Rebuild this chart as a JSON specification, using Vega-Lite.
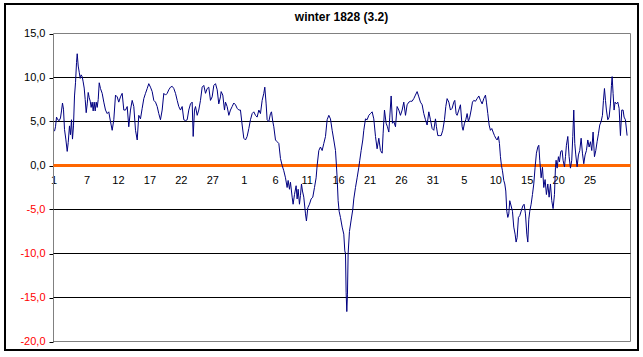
{
 "$schema": "https://vega.github.io/schema/vega-lite/v6.json",
 "width": 633,
 "height": 346,
 "autosize": {"type": "none"},
 "padding": {"left": 5, "top": 4, "right": 5, "bottom": 7},
 "background": "white",
 "title": {"text": "winter 1828 (3.2)", "font": "Liberation Sans", "fontSize": 12, "fontWeight": "bold", "color": "black", "anchor": "middle", "frame": "group", "offset": -17, "baseline": "alphabetic", "dx": 20, "dy": 12},
 "config": {"view": {"stroke": "black", "strokeWidth": 2}, "font": "Liberation Sans"},
 "layer": [
  {
   "data": {"values": [{}]},
   "mark": {"type": "rect", "fill": "white", "fillOpacity": 0, "stroke": "#808080", "strokeWidth": 1},
   "encoding": {
    "x": {"datum": 0.75, "type": "quantitative", "scale": {"type": "linear", "domain": [0.75, 92.5], "range": [48.5, 625.5], "nice": false, "zero": false},
     "axis": {"orient": "bottom", "offset": -186, "values": [0.75, 6, 11, 16, 21, 26, 31, 36, 41, 46, 51, 56, 61, 66, 71, 76, 81, 86], "domain": false, "ticks": false, "tickSize": 0, "grid": false, "labelFont": "Liberation Sans", "labelFontSize": 11, "labelColor": "black", "labelPadding": 10, "labelOverlap": false, "labelFlush": false, "labelBound": false, "labelExpr": "datum.value < 1 ? '1' : datum.value < 31 ? '' + (datum.value + 1) : datum.value < 62 ? '' + (datum.value - 30) : '' + (datum.value - 61)", "title": null}},
    "x2": {"datum": 92.5},
    "y": {"datum": 15, "type": "quantitative", "scale": {"type": "linear", "domain": [-20, 15], "range": [337.5, 29.5], "nice": false, "zero": false},
     "axis": {"orient": "left", "offset": -48, "values": [-20, -15, -10, -5, 0, 5, 10, 15], "grid": false, "domainColor": "black", "domainWidth": 1, "tickColor": "black", "tickSize": 4, "labelFont": "Liberation Sans", "labelFontSize": 11, "labelPadding": 4, "labelColor": {"condition": {"test": "datum.value < 0", "value": "#FF0000"}, "value": "black"}, "labelExpr": "(datum.value < 0 ? '-' : '') + replace(format(abs(datum.value), '.1f'), '.', ',')", "title": null}},
    "y2": {"datum": -20}
   }
  },
  {
   "data": {"values": [{"g": -15}, {"g": -10}, {"g": -5}, {"g": 5}, {"g": 10}]},
   "mark": {"type": "rule", "color": "black", "strokeWidth": 1},
   "encoding": {
    "y": {"field": "g", "type": "quantitative", "scale": {"type": "linear", "domain": [-20, 15], "range": [337.5, 29.5], "nice": false, "zero": false},
     "axis": {"orient": "left", "offset": -48, "values": [-20, -15, -10, -5, 0, 5, 10, 15], "grid": false, "domainColor": "black", "domainWidth": 1, "tickColor": "black", "tickSize": 4, "labelFont": "Liberation Sans", "labelFontSize": 11, "labelPadding": 4, "labelColor": {"condition": {"test": "datum.value < 0", "value": "#FF0000"}, "value": "black"}, "labelExpr": "(datum.value < 0 ? '-' : '') + replace(format(abs(datum.value), '.1f'), '.', ',')", "title": null}},
    "x": {"datum": 0.75, "type": "quantitative", "scale": {"type": "linear", "domain": [0.75, 92.5], "range": [48.5, 625.5], "nice": false, "zero": false},
     "axis": {"orient": "bottom", "offset": -186, "values": [0.75, 6, 11, 16, 21, 26, 31, 36, 41, 46, 51, 56, 61, 66, 71, 76, 81, 86], "domain": false, "ticks": false, "tickSize": 0, "grid": false, "labelFont": "Liberation Sans", "labelFontSize": 11, "labelColor": "black", "labelPadding": 10, "labelOverlap": false, "labelFlush": false, "labelBound": false, "labelExpr": "datum.value < 1 ? '1' : datum.value < 31 ? '' + (datum.value + 1) : datum.value < 62 ? '' + (datum.value - 30) : '' + (datum.value - 61)", "title": null}},
    "x2": {"datum": 92.5}
   }
  },
  {
   "data": {"values": [{}]},
   "mark": {"type": "rule", "color": "#FF6600", "strokeWidth": 3},
   "encoding": {
    "y": {"datum": 0, "type": "quantitative", "scale": {"type": "linear", "domain": [-20, 15], "range": [337.5, 29.5], "nice": false, "zero": false},
     "axis": {"orient": "left", "offset": -48, "values": [-20, -15, -10, -5, 0, 5, 10, 15], "grid": false, "domainColor": "black", "domainWidth": 1, "tickColor": "black", "tickSize": 4, "labelFont": "Liberation Sans", "labelFontSize": 11, "labelPadding": 4, "labelColor": {"condition": {"test": "datum.value < 0", "value": "#FF0000"}, "value": "black"}, "labelExpr": "(datum.value < 0 ? '-' : '') + replace(format(abs(datum.value), '.1f'), '.', ',')", "title": null}},
    "x": {"datum": 0.75, "type": "quantitative", "scale": {"type": "linear", "domain": [0.75, 92.5], "range": [48.5, 625.5], "nice": false, "zero": false},
     "axis": {"orient": "bottom", "offset": -186, "values": [0.75, 6, 11, 16, 21, 26, 31, 36, 41, 46, 51, 56, 61, 66, 71, 76, 81, 86], "domain": false, "ticks": false, "tickSize": 0, "grid": false, "labelFont": "Liberation Sans", "labelFontSize": 11, "labelColor": "black", "labelPadding": 10, "labelOverlap": false, "labelFlush": false, "labelBound": false, "labelExpr": "datum.value < 1 ? '1' : datum.value < 31 ? '' + (datum.value + 1) : datum.value < 62 ? '' + (datum.value - 30) : '' + (datum.value - 61)", "title": null}},
    "x2": {"datum": 92.5}
   }
  },
  {
   "data": {"values": [
    {"d":0.91,"v":3.9},{"d":1.07,"v":4.4},{"d":1.23,"v":5.5},{"d":1.43,"v":5.2},{"d":1.66,"v":5.1},{"d":1.86,"v":5.4},{"d":2.02,"v":6.2},{"d":2.18,"v":7.1},{"d":2.34,"v":6.4},{"d":2.50,"v":4.1},{"d":2.71,"v":3.0},{"d":2.93,"v":1.6},{"d":3.09,"v":2.6},{"d":3.29,"v":4.5},{"d":3.45,"v":3.5},{"d":3.61,"v":5.2},{"d":3.77,"v":3.0},{"d":3.93,"v":4.5},{"d":4.09,"v":7.9},{"d":4.25,"v":9.4},{"d":4.41,"v":11.7},{"d":4.52,"v":12.7},{"d":4.68,"v":11.3},{"d":4.84,"v":10.6},{"d":5.00,"v":9.9},{"d":5.15,"v":10.3},{"d":5.31,"v":10.1},{"d":5.47,"v":9.5},{"d":5.63,"v":8.8},{"d":5.79,"v":7.5},{"d":5.95,"v":6.0},{"d":6.11,"v":7.0},{"d":6.27,"v":8.3},{"d":6.43,"v":7.7},{"d":6.59,"v":7.3},{"d":6.74,"v":6.6},{"d":6.90,"v":7.2},{"d":7.06,"v":6.2},{"d":7.22,"v":7.2},{"d":7.38,"v":6.2},{"d":7.54,"v":7.2},{"d":7.70,"v":6.6},{"d":7.86,"v":7.5},{"d":8.02,"v":9.4},
    {"d":8.22,"v":8.75},{"d":8.49,"v":8.2},{"d":8.75,"v":7.2},{"d":9.02,"v":6.3},{"d":9.29,"v":5.9},{"d":9.54,"v":6.1},{"d":9.81,"v":5.0},{"d":10.08,"v":4.0},{"d":10.34,"v":5.2},{"d":10.61,"v":8.0},{"d":10.88,"v":7.8},{"d":11.13,"v":7.2},{"d":11.40,"v":7.8},{"d":11.67,"v":8.2},{"d":11.93,"v":6.3},{"d":12.20,"v":6.3},{"d":12.47,"v":6.7},{"d":12.72,"v":4.4},{"d":12.99,"v":6.3},{"d":13.26,"v":7.4},{"d":13.52,"v":6.7},{"d":13.79,"v":4.0},{"d":14.06,"v":2.9},{"d":14.31,"v":5.7},{"d":14.58,"v":5.3},{"d":14.85,"v":6.5},{"d":15.11,"v":7.6},{"d":15.38,"v":8.2},{"d":15.65,"v":8.75},{"d":15.90,"v":9.3},{"d":16.17,"v":8.9},{"d":16.44,"v":8.4},{"d":16.70,"v":7.4},{"d":16.97,"v":7.2},{"d":17.24,"v":6.7},{"d":17.49,"v":5.9},{"d":17.76,"v":5.2},{"d":18.03,"v":6.3},{"d":18.29,"v":8.2},{"d":18.56,"v":8.0},{"d":18.83,"v":8.2},{"d":19.08,"v":8.6},{"d":19.35,"v":8.9},{"d":19.62,"v":9.0},{"d":19.88,"v":8.75},{"d":20.15,"v":8.2},{"d":20.42,"v":7.4},{"d":20.67,"v":6.7},{"d":20.94,"v":6.3},{"d":21.21,"v":6.7},{"d":21.47,"v":5.2},{"d":21.74,"v":5.1},{"d":22.01,"v":5.2},{"d":22.26,"v":6.3},{"d":22.53,"v":7.0},{"d":22.80,"v":7.2},{"d":22.96,"v":3.3},{"d":23.17,"v":6.3},{"d":23.33,"v":6.7},{"d":23.60,"v":5.7},{"d":23.85,"v":6.3},{"d":24.12,"v":7.4},{"d":24.39,"v":8.9},{"d":24.65,"v":9.1},{"d":24.92,"v":8.2},{"d":25.19,"v":8.75},{"d":25.44,"v":8.9},{"d":25.71,"v":7.4},{"d":25.98,"v":7.8},{"d":26.24,"v":9.1},{"d":26.51,"v":9.3},{"d":26.78,"v":8.6},{"d":27.03,"v":7.0},{"d":27.30,"v":7.8},
    {"d":27.41,"v":8.4},{"d":27.67,"v":8.0},{"d":27.94,"v":6.3},{"d":28.10,"v":7.2},{"d":28.36,"v":6.7},{"d":28.63,"v":5.7},{"d":28.89,"v":6.3},{"d":29.16,"v":6.7},{"d":29.42,"v":7.1},{"d":29.69,"v":6.9},{"d":29.95,"v":6.5},{"d":30.22,"v":6.3},{"d":30.48,"v":6.3},{"d":30.75,"v":4.6},{"d":31.01,"v":3.1},{"d":31.28,"v":2.9},{"d":31.54,"v":3.3},{"d":31.81,"v":4.2},{"d":32.07,"v":5.2},{"d":32.34,"v":5.9},{"d":32.60,"v":6.1},{"d":32.87,"v":5.7},{"d":33.13,"v":5.5},{"d":33.40,"v":6.3},{"d":33.66,"v":5.9},{"d":33.93,"v":7.4},{"d":34.19,"v":8.2},{"d":34.35,"v":8.9},{"d":34.56,"v":7.0},{"d":34.72,"v":5.2},{"d":34.99,"v":5.0},{"d":35.25,"v":5.9},{"d":35.41,"v":6.1},{"d":35.62,"v":5.0},{"d":35.78,"v":4.4},{"d":36.05,"v":2.9},{"d":36.31,"v":2.7},{"d":36.58,"v":2.5},{"d":36.84,"v":0.8},{"d":37.11,"v":0.0},{"d":37.37,"v":-0.6},{"d":37.64,"v":-1.4},{"d":37.90,"v":-2.5},{"d":38.06,"v":-1.7},{"d":38.27,"v":-2.7},{"d":38.43,"v":-1.9},{"d":38.70,"v":-3.6},{"d":38.85,"v":-4.4},{"d":39.07,"v":-3.3},{"d":39.33,"v":-2.3},{"d":39.49,"v":-3.8},{"d":39.65,"v":-2.7},{"d":39.86,"v":-4.4},{"d":40.02,"v":-3.4},{"d":40.18,"v":-2.1},{"d":40.34,"v":-2.9},{"d":40.55,"v":-3.6},{"d":40.82,"v":-5.5},{"d":40.97,"v":-6.3},{"d":41.19,"v":-4.8},{"d":41.45,"v":-4.4},{"d":41.72,"v":-3.8},{"d":41.98,"v":-3.6},{"d":42.25,"v":-2.5},{"d":42.51,"v":-1.4},{"d":42.67,"v":0.0},{"d":42.94,"v":1.7},{"d":43.20,"v":2.1},{"d":43.47,"v":1.7},{"d":43.73,"v":2.5},{"d":44.00,"v":3.3},{"d":44.26,"v":5.2},{"d":44.53,"v":5.7},{"d":44.79,"v":5.3},{"d":45.06,"v":4.0},{"d":45.32,"v":2.9},{"d":45.59,"v":1.7},{"d":45.74,"v":0.0},{"d":45.85,"v":-1.4},{"d":46.01,"v":-4.0},{"d":46.17,"v":-5.2},{"d":46.38,"v":-5.9},{"d":46.65,"v":-7.0},{"d":46.91,"v":-7.8},{"d":47.07,"v":-9.7},{"d":47.18,"v":-10.0},{"d":47.28,"v":-14.4},{"d":47.39,"v":-16.6},{"d":47.49,"v":-14.7},{"d":47.60,"v":-10.0},{"d":47.81,"v":-7.5},{"d":48.08,"v":-6.2},{"d":48.34,"v":-5.0},{"d":48.50,"v":-3.8},{"d":48.77,"v":-2.5},{"d":49.03,"v":-1.4},{"d":49.30,"v":-0.2},{"d":49.45,"v":0.6},{"d":49.67,"v":1.7},{"d":49.93,"v":2.9},{"d":50.09,"v":4.0},{"d":50.36,"v":5.3},{"d":50.62,"v":5.2},{"d":50.89,"v":5.7},{"d":51.15,"v":5.9},{"d":51.42,"v":6.1},{"d":51.68,"v":5.3},{"d":51.95,"v":3.3},{"d":52.21,"v":1.9},{"d":52.48,"v":3.1},{"d":52.74,"v":1.7},{"d":53.01,"v":1.4},{"d":53.16,"v":3.6},{"d":53.38,"v":6.3},{"d":53.64,"v":4.8},{"d":53.85,"v":4.4},{"d":54.07,"v":3.8},{"d":54.22,"v":5.5},{"d":54.44,"v":7.9},{"d":54.65,"v":4.8},{"d":54.86,"v":5.0},{"d":55.13,"v":4.4},{"d":55.39,"v":6.7},{"d":55.66,"v":6.3},{"d":55.92,"v":5.7},{"d":56.19,"v":6.3},{"d":56.45,"v":7.2},{"d":56.72,"v":5.7},{"d":56.98,"v":6.9},{"d":57.25,"v":7.2},{"d":57.51,"v":7.3},
    {"d":57.77,"v":7.3},{"d":58.04,"v":7.6},{"d":58.30,"v":8.0},{"d":58.57,"v":8.4},{"d":58.84,"v":7.8},{"d":59.10,"v":7.2},{"d":59.37,"v":6.9},{"d":59.63,"v":5.9},{"d":59.90,"v":5.2},{"d":60.16,"v":4.6},{"d":60.43,"v":6.1},{"d":60.69,"v":5.2},{"d":60.96,"v":4.2},{"d":61.22,"v":4.0},{"d":61.49,"v":5.3},{"d":61.64,"v":4.4},{"d":61.86,"v":3.4},{"d":62.12,"v":3.4},{"d":62.39,"v":3.4},{"d":62.65,"v":4.0},{"d":62.92,"v":5.2},{"d":63.13,"v":6.7},{"d":63.34,"v":7.6},{"d":63.61,"v":7.2},{"d":63.87,"v":6.3},{"d":64.14,"v":6.5},{"d":64.40,"v":7.2},{"d":64.56,"v":7.4},{"d":64.77,"v":5.9},{"d":64.93,"v":5.7},{"d":65.20,"v":6.3},{"d":65.46,"v":6.9},{"d":65.73,"v":4.4},{"d":65.88,"v":4.0},{"d":66.10,"v":4.8},{"d":66.31,"v":5.2},{"d":66.52,"v":5.9},{"d":66.73,"v":5.0},{"d":66.94,"v":5.5},{"d":67.16,"v":6.3},{"d":67.37,"v":7.2},{"d":67.58,"v":7.4},{"d":67.85,"v":7.3},{"d":68.11,"v":7.6},{"d":68.38,"v":7.9},{"d":68.64,"v":7.4},{"d":68.91,"v":7.0},{"d":69.17,"v":7.6},{"d":69.44,"v":8.0},{"d":69.59,"v":7.2},{"d":69.81,"v":5.9},{"d":70.02,"v":4.6},{"d":70.23,"v":4.0},{"d":70.44,"v":4.2},{"d":70.65,"v":3.8},{"d":70.87,"v":3.4},{"d":71.08,"v":3.1},{"d":71.29,"v":2.9},{"d":71.50,"v":3.3},{"d":71.66,"v":2.5},{"d":71.82,"v":1.0},{"d":71.98,"v":0.0},{"d":72.14,"v":-0.6},{"d":72.35,"v":-1.7},{"d":72.51,"v":-2.1},{"d":72.67,"v":-2.9},{"d":72.83,"v":-5.2},{"d":72.99,"v":-5.9},{"d":73.15,"v":-5.5},{"d":73.30,"v":-4.0},{"d":73.52,"v":-4.6},{"d":73.73,"v":-5.2},{"d":73.94,"v":-7.0},{"d":74.15,"v":-7.8},{"d":74.31,"v":-8.7},{"d":74.47,"v":-8.2},{"d":74.68,"v":-5.9},{"d":74.89,"v":-5.7},{"d":75.11,"v":-5.2},{"d":75.37,"v":-4.6},{"d":75.58,"v":-4.4},{"d":75.80,"v":-5.5},{"d":76.01,"v":-7.8},{"d":76.17,"v":-8.7},{"d":76.33,"v":-6.1},{"d":76.48,"v":-5.2},{"d":76.70,"v":-4.4},{"d":76.91,"v":-3.3},{"d":77.12,"v":-2.1},{"d":77.33,"v":-0.2},{"d":77.54,"v":1.4},{"d":77.76,"v":2.1},{"d":77.92,"v":2.3},{"d":78.07,"v":0.6},{"d":78.29,"v":-1.4},{"d":78.50,"v":-0.2},{"d":78.71,"v":-2.5},{"d":78.92,"v":-1.6},{"d":79.13,"v":-3.3},{"d":79.35,"v":-2.1},{"d":79.56,"v":-3.6},{"d":79.77,"v":-2.1},{"d":79.98,"v":-4.0},{"d":80.19,"v":-4.9},{"d":80.41,"v":-3.3},{"d":80.57,"v":-0.2},{"d":80.67,"v":0.6},{"d":80.83,"v":-0.3},{"d":81.04,"v":1.0},{"d":81.20,"v":0.4},{"d":81.41,"v":1.6},{"d":81.63,"v":1.7},{"d":81.78,"v":0.6},{"d":82.00,"v":-0.15},{"d":82.16,"v":1.0},{"d":82.31,"v":2.3},{"d":82.53,"v":3.3},{"d":82.74,"v":1.0},{"d":82.95,"v":-0.3},{"d":83.16,"v":0.6},{"d":83.32,"v":3.3},{"d":83.48,"v":6.3},{"d":83.64,"v":2.5},{"d":83.80,"v":1.2},{"d":84.01,"v":-0.15},{"d":84.22,"v":1.2},{"d":84.43,"v":1.7},{"d":84.65,"v":3.1},{"d":84.86,"v":1.4},{"d":85.07,"v":0.2},{"d":85.28,"v":1.2},{"d":85.49,"v":1.7},{"d":85.71,"v":2.9},{"d":85.92,"v":2.1},{"d":86.13,"v":2.7},{"d":86.34,"v":1.7},{"d":86.55,"v":3.8},{"d":86.77,"v":1.0},{"d":86.98,"v":1.7},{"d":87.19,"v":2.7},{"d":87.40,"v":3.6},{"d":87.61,"v":4.6},{"d":87.83,"v":5.0},{"d":88.04,"v":5.7},{"d":88.20,"v":7.4},{"d":88.36,"v":8.75},{"d":88.52,"v":7.4},{"d":88.67,"v":6.3},{"d":88.89,"v":5.2},{"d":89.10,"v":5.5},{"d":89.31,"v":7.0},{"d":89.47,"v":9.1},{"d":89.58,"v":10.1},{"d":89.73,"v":8.2},{"d":89.89,"v":6.3},{"d":90.05,"v":7.2},{"d":90.26,"v":7.0},{"d":90.48,"v":7.2},{"d":90.69,"v":6.5},{"d":90.90,"v":3.4},{"d":91.11,"v":6.3},{"d":91.32,"v":6.3},{"d":91.48,"v":5.5},{"d":91.69,"v":5.2},{"d":91.96,"v":3.4}
   ]},
   "mark": {"type": "line", "color": "#000080", "strokeWidth": 1},
   "encoding": {
    "x": {"field": "d", "type": "quantitative",
     "scale": {"type": "linear", "domain": [0.75, 92.5], "range": [48.5, 625.5], "nice": false, "zero": false},
     "axis": {"orient": "bottom", "offset": -186, "values": [0.75, 6, 11, 16, 21, 26, 31, 36, 41, 46, 51, 56, 61, 66, 71, 76, 81, 86], "domain": false, "ticks": false, "tickSize": 0, "grid": false, "labelFont": "Liberation Sans", "labelFontSize": 11, "labelColor": "black", "labelPadding": 10, "labelOverlap": false, "labelFlush": false, "labelBound": false, "labelExpr": "datum.value < 1 ? '1' : datum.value < 31 ? '' + (datum.value + 1) : datum.value < 62 ? '' + (datum.value - 30) : '' + (datum.value - 61)", "title": null}},
    "y": {"field": "v", "type": "quantitative",
     "scale": {"type": "linear", "domain": [-20, 15], "range": [337.5, 29.5], "nice": false, "zero": false},
     "axis": {"orient": "left", "offset": -48, "values": [-20, -15, -10, -5, 0, 5, 10, 15], "grid": false, "domainColor": "black", "domainWidth": 1, "tickColor": "black", "tickSize": 4, "labelFont": "Liberation Sans", "labelFontSize": 11, "labelPadding": 4, "labelColor": {"condition": {"test": "datum.value < 0", "value": "#FF0000"}, "value": "black"}, "labelExpr": "(datum.value < 0 ? '-' : '') + replace(format(abs(datum.value), '.1f'), '.', ',')", "title": null}}
   }
  }
 ]
}
